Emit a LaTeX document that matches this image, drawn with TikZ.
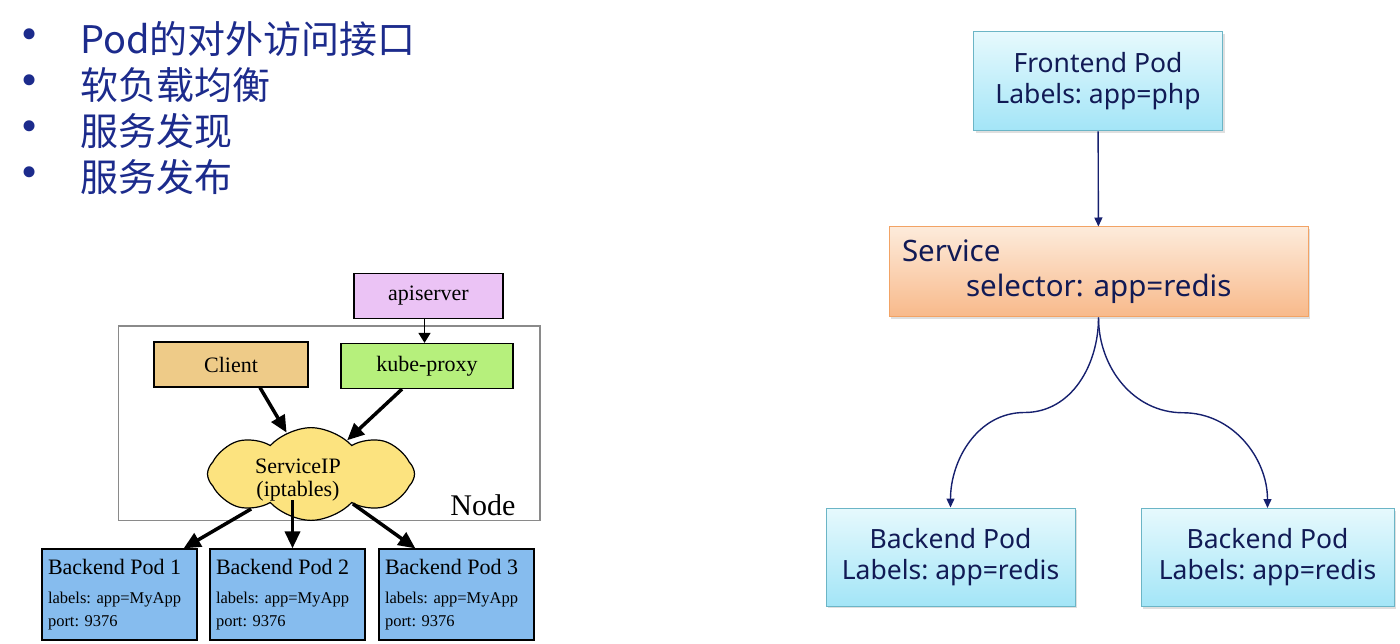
\documentclass[tikz,border=0pt]{standalone}
\usepackage{fontspec}
\setmainfont{Liberation Serif}
\newfontfamily\cjk{Noto Sans CJK SC}
\newfontfamily\rsans{Noto Sans}
\usetikzlibrary{arrows.meta, positioning, calc, shapes.symbols, shadows}
\definecolor{bultxt}{HTML}{1C2B8C}
\definecolor{navytxt}{HTML}{111A55}
\definecolor{navyln}{HTML}{16206E}
\definecolor{apifill}{HTML}{EBC3F5}
\definecolor{clifill}{HTML}{EECB88}
\definecolor{kpfill}{HTML}{B6F07C}
\definecolor{cloudfill}{HTML}{FCE37F}
\definecolor{bpfill}{HTML}{86BCEE}
\definecolor{nodegray}{HTML}{8A8A8A}
\definecolor{podtop}{HTML}{E6F9FD}
\definecolor{podbot}{HTML}{A3E5F7}
\definecolor{podedge}{HTML}{6BB5C6}
\definecolor{svctop}{HTML}{FDEBDB}
\definecolor{svcbot}{HTML}{F8B98A}
\definecolor{svcedge}{HTML}{F2A365}
\frenchspacing

\begin{document}
\begin{tikzpicture}[x=1pt, y=1pt,
  bigarrow/.style={line width=3.5pt, -{Triangle[length=17pt, width=15pt]}},
  thinarrow/.style={line width=1.5pt, -{Triangle[length=10pt, width=12pt]}},
  navyarrow/.style={navyln, line width=1.4pt, -{Triangle[length=9pt, width=8pt]}},
  lbox/.style={draw, line width=1.2pt, minimum height=45pt, font=\fontsize{22}{26}\selectfont},
  bpbox/.style={draw, line width=1.2pt, fill=bpfill, minimum height=91pt, text width=143pt,
                inner xsep=6pt, align=left, font=\fontsize{16.5}{23}\selectfont},
  podR/.style={draw=podedge, line width=1pt, top color=podtop, bottom color=podbot,
               minimum width=249pt, minimum height=98pt, align=center, text=navytxt,
               font=\rsans\fontsize{26.5}{31}\selectfont,
               drop shadow={opacity=0.25, shadow xshift=2pt, shadow yshift=-2pt}},
  bullet/.style={anchor=west, inner sep=0pt, text=bultxt, font=\cjk\fontsize{38}{44}\selectfont},
]
\useasboundingbox (0,0) rectangle (1400,-644);

% ============ Bullet list ============
\foreach \txt [count=\i] in {Pod的对外访问接口, 软负载均衡, 服务发现, 服务发布} {
  \pgfmathsetmacro{\yy}{-39-46*(\i-1)}
  \node[text=bultxt, font=\fontsize{46}{46}\selectfont] (dot\i) at (30,\yy) {•};
  \node[bullet] (item\i) at (80,\yy) {\txt};
}

% ============ Left: kube-proxy / iptables ============
\draw[nodegray, line width=1.2pt] (118.5,-326) rectangle (540,-520.5);
\node[font=\fontsize{30}{30}\selectfont, anchor=base east] (nodelbl) at (519,-515) {Node};

\node[lbox, fill=apifill, minimum width=149pt] (api) at (428.5,-296) {apiserver};
\node[lbox, fill=clifill, minimum width=154pt] (client) at (231,-364.5) {Client};
\node[lbox, fill=kpfill, minimum width=172pt] (kproxy) at (427,-366) {kube-proxy};

\node[cloud, cloud puffs=8, cloud puff arc=95, aspect=2.2, draw, line width=1.2pt,
      fill=cloudfill, minimum width=207pt, minimum height=91pt, inner sep=0pt, align=center,
      font=\fontsize{22}{23}\selectfont] (sip) at (311,-474)
  {\raisebox{-6pt}[15pt][0pt]{ServiceIP\hspace*{26pt}}\\\raisebox{-6pt}[15pt][5pt]{(iptables)\hspace*{26pt}}};

\node[bpbox] (bp1) at (119.5,-594.5) {{\fontsize{22}{24}\selectfont Backend Pod 1}\\[6pt]labels: app=MyApp\\port: 9376};
\node[bpbox] (bp2) at (287.5,-594.5) {{\fontsize{22}{24}\selectfont Backend Pod 2}\\[6pt]labels: app=MyApp\\port: 9376};
\node[bpbox] (bp3) at (456.5,-594.5) {{\fontsize{22}{24}\selectfont Backend Pod 3}\\[6pt]labels: app=MyApp\\port: 9376};

\draw[thinarrow] ([xshift=-4pt]api.south) -- ([xshift=-4pt]api.south |- kproxy.north);
\draw[bigarrow] ([xshift=29pt]client.south) -- (sip);
\draw[bigarrow] ([xshift=-25pt]kproxy.south) -- (sip);
\draw[bigarrow] (sip) -- ([xshift=-14pt]bp1.north east);
\draw[bigarrow] ([xshift=5pt,yshift=21pt]sip.south -| bp2.north) -- ([xshift=5pt]bp2.north);
\draw[bigarrow] (sip) -- ([xshift=37pt]bp3.north west);

% ============ Right: Service selector ============
\node[podR, minimum height=99pt] (front) at (1098,-81.5) {Frontend Pod\\Labels: app=php};

\node[draw=svcedge, line width=1pt, top color=svctop, bottom color=svcbot,
      minimum width=419pt, minimum height=90pt, text width=393pt, inner xsep=13pt,
      align=left, text=navytxt, font=\rsans\fontsize{29.5}{35}\selectfont,
      drop shadow={opacity=0.25, shadow xshift=2pt, shadow yshift=-2pt}] (svc) at (1098.5,-272)
  {Service\\\hspace*{64pt}selector: app=redis};

\node[podR] (bl) at (950.5,-557) {Backend Pod\\Labels: app=redis};
\node[podR, minimum width=253pt] (br) at (1267.5,-557.5) {Backend Pod\\Labels: app=redis};

\coordinate (midL) at ($(svc.south)!.5!(bl.north)$);
\coordinate (midR) at ($(svc.south)!.5!(br.north)$);

\draw[navyarrow] (front) -- (svc);
\draw[navyarrow] (svc.south) to[out=-90, in=0] (midL) to[out=180, in=90] (bl.north);
\draw[navyarrow] (svc.south) to[out=-90, in=180] (midR) to[out=0, in=90] (br.north);

\end{tikzpicture}
\end{document}
